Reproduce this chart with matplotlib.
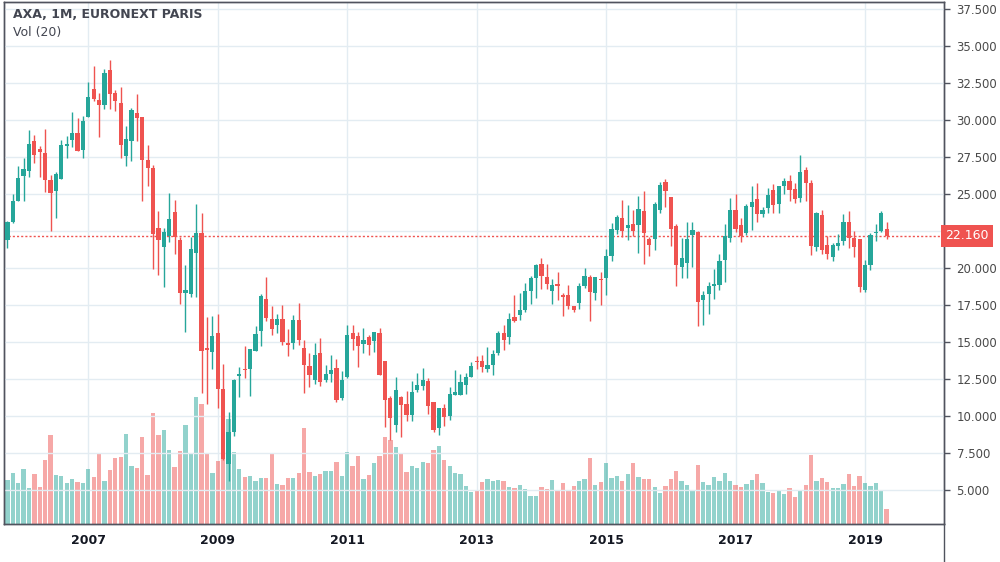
import numpy as np
import pandas as pd
import matplotlib
matplotlib.use('Agg')
import matplotlib.pyplot as plt
from matplotlib.lines import Line2D

# monthly candles, Oct 2005 .. May 2019
months = pd.date_range('2005-10-01', periods=164, freq='MS')

opens = [21.89, 23.13, 24.55, 26.24, 26.58, 28.60, 28.06, 27.79, 25.97, 25.18,
         25.99, 28.27, 28.63, 29.14, 27.95, 30.23, 32.12, 31.37, 30.99, 33.40,
         31.82, 31.13, 27.55, 28.56, 30.50, 30.23, 27.27, 26.76, 22.68, 21.44,
         22.16, 23.78, 21.89, 18.33, 18.27, 21.04, 22.36, 14.57, 14.35, 15.61,
         11.85, 6.78, 8.90, 12.68, 13.20, 13.15, 14.37, 15.72, 17.93, 16.58,
         16.13, 16.58, 14.95, 14.91, 16.51, 14.62, 13.40, 12.41, 14.28, 12.41,
         12.82, 13.27, 11.19, 12.61, 15.63, 15.43, 14.89, 15.36, 15.09, 15.63,
         13.74, 11.24, 9.37, 11.31, 10.83, 10.05, 11.78, 12.05, 12.39, 10.97,
         9.17, 10.52, 9.98, 11.44, 11.40, 12.12, 12.61, 13.67, 13.74, 13.15,
         13.42, 14.23, 15.63, 15.32, 16.71, 16.80, 17.18, 18.42, 19.30, 20.29,
         19.41, 18.47, 18.90, 18.20, 18.20, 17.45, 17.61, 18.81, 19.41, 18.29,
         19.23, 19.30, 20.79, 22.57, 23.40, 22.70, 23.00, 22.93, 23.87, 21.98,
         21.98, 23.94, 25.83, 24.82, 22.86, 20.09, 20.36, 22.23, 22.45, 17.84,
         18.24, 18.81, 18.87, 20.56, 22.05, 23.92, 22.91, 22.39, 24.12, 24.66,
         23.67, 24.05, 25.27, 24.32, 25.54, 25.88, 25.34, 24.75, 26.62, 25.74,
         21.42, 23.58, 21.55, 20.77, 21.51, 21.85, 23.11, 22.05, 21.96, 18.54,
         20.20, 22.39, 22.52, 22.64]

highs = [23.20, 25.00, 26.90, 27.41, 29.35, 29.01, 28.27, 29.41, 26.31, 26.46,
         28.65, 28.94, 30.56, 30.16, 30.25, 32.59, 33.67, 31.85, 33.47, 34.08,
         32.05, 32.21, 29.59, 30.83, 31.78, 30.23, 28.33, 26.96, 23.85, 22.73,
         25.07, 24.59, 22.09, 20.20, 22.09, 24.30, 23.69, 16.69, 16.76, 16.89,
         13.54, 10.29, 12.50, 13.33, 14.75, 14.55, 16.10, 18.27, 19.41, 17.45,
         16.91, 17.52, 15.88, 16.85, 17.66, 15.16, 14.28, 14.95, 15.29, 13.42,
         14.14, 13.87, 13.06, 16.17, 16.17, 15.70, 15.97, 15.50, 15.70, 15.97,
         13.74, 11.37, 12.66, 11.37, 11.71, 12.39, 12.93, 13.27, 12.59, 10.97,
         10.52, 10.83, 11.98, 13.13, 12.86, 12.93, 13.67, 14.04, 14.14, 14.68,
         14.48, 15.77, 16.17, 16.98, 18.20, 18.33, 19.01, 19.48, 20.29, 20.70,
         20.29, 19.28, 19.70, 18.33, 18.87, 17.45, 19.01, 20.02, 19.55, 19.41,
         19.75, 21.31, 23.06, 23.58, 24.62, 24.28, 23.94, 24.89, 25.23, 22.12,
         24.48, 25.83, 26.04, 24.82, 22.97, 22.05, 23.13, 23.11, 22.50, 18.45,
         19.08, 19.95, 20.97, 22.97, 24.73, 25.00, 23.38, 24.32, 25.54, 25.74,
         24.12, 25.41, 25.68, 25.54, 26.08, 26.28, 25.74, 27.64, 26.82, 25.95,
         23.81, 23.92, 22.16, 21.69, 22.30, 23.65, 23.85, 22.50, 21.96, 20.54,
         22.36, 22.97, 23.87, 23.11]

lows = [21.33, 23.02, 24.50, 24.55, 26.13, 27.07, 26.17, 25.11, 22.48, 23.36,
        25.99, 27.41, 28.15, 27.88, 27.41, 30.18, 31.26, 28.83, 30.72, 30.72,
        30.63, 27.41, 26.90, 27.25, 28.60, 24.53, 25.54, 19.91, 19.53, 18.74,
        21.78, 20.97, 17.59, 15.70, 18.06, 18.06, 11.58, 10.83, 13.20, 10.56,
        7.05, 5.59, 8.67, 11.26, 12.55, 11.33, 14.37, 14.71, 16.40, 15.45,
        15.59, 14.82, 14.03, 14.50, 14.77, 11.53, 11.94, 12.14, 12.00, 12.27,
        12.27, 10.92, 11.10, 12.57, 14.48, 13.29, 14.28, 14.14, 14.35, 12.79,
        9.28, 8.40, 8.90, 8.56, 9.64, 9.64, 11.60, 11.78, 10.11, 8.95,
        8.69, 9.30, 9.75, 11.44, 11.40, 11.46, 12.61, 13.20, 12.95, 12.95,
        12.75, 14.10, 14.44, 14.84, 16.37, 16.51, 17.05, 17.59, 18.00, 18.60,
        18.60, 17.59, 17.84, 16.73, 17.21, 17.00, 17.21, 18.63, 16.40, 17.82,
        17.52, 18.15, 20.50, 22.30, 22.12, 21.91, 22.18, 21.04, 20.25, 20.79,
        21.24, 23.74, 24.14, 21.51, 18.81, 19.35, 19.35, 20.09, 16.10, 16.17,
        16.91, 17.93, 18.54, 19.03, 21.78, 22.45, 21.78, 22.20, 22.59, 23.13,
        23.47, 23.72, 23.72, 23.72, 25.00, 24.53, 24.40, 24.46, 24.53, 20.90,
        21.15, 20.92, 20.63, 20.50, 21.22, 21.58, 21.37, 20.77, 18.40, 18.40,
        19.89, 21.85, 22.45, 21.98]

closes = [23.13, 24.55, 26.10, 26.71, 28.40, 27.66, 27.82, 25.92, 25.05, 26.37,
          28.33, 28.40, 29.14, 27.88, 29.95, 31.58, 31.40, 30.99, 33.20, 31.73,
          31.26, 28.29, 28.74, 30.70, 30.14, 27.27, 26.76, 22.27, 21.87, 22.43,
          23.29, 22.09, 18.33, 18.49, 21.26, 22.36, 14.41, 14.46, 15.41, 11.85,
          7.12, 8.90, 12.45, 12.86, 13.09, 14.55, 15.56, 18.13, 16.60, 15.86,
          16.58, 14.98, 14.77, 16.51, 15.11, 13.42, 12.75, 14.14, 12.27, 12.86,
          13.13, 11.06, 12.45, 15.50, 15.18, 14.71, 15.16, 14.82, 15.70, 12.79,
          11.10, 9.84, 11.78, 10.72, 10.05, 11.64, 12.12, 12.45, 10.65, 9.03,
          10.52, 9.93, 11.51, 11.64, 12.32, 12.66, 13.40, 13.65, 13.29, 13.47,
          14.21, 15.63, 15.11, 16.58, 16.44, 17.18, 18.47, 19.35, 20.23, 19.48,
          18.94, 18.87, 18.75, 18.02, 17.41, 17.14, 18.81, 19.48, 18.36, 19.41,
          19.20, 20.83, 22.66, 23.47, 22.52, 22.93, 22.52, 24.01, 22.39, 21.58,
          24.35, 25.63, 25.23, 22.66, 20.23, 20.65, 21.96, 22.57, 17.73, 18.18,
          18.81, 18.94, 20.47, 22.16, 23.92, 22.66, 22.18, 24.19, 24.46, 23.67,
          23.92, 24.93, 24.26, 25.54, 25.88, 25.27, 24.66, 26.49, 25.74, 21.51,
          23.74, 21.24, 20.92, 21.55, 21.69, 23.11, 22.05, 21.44, 18.74, 20.20,
          22.23, 22.45, 23.72, 22.16]

# volume, arbitrary units (millions of shares, approx.)
volume = [132, 153, 123, 165, 108, 150, 111, 192, 267, 147,
          144, 123, 135, 126, 123, 165, 141, 210, 129, 162,
          198, 201, 270, 174, 168, 261, 147, 333, 267, 282,
          222, 171, 219, 297, 213, 381, 360, 213, 153, 189,
          198, 315, 216, 165, 141, 144, 129, 138, 138, 213,
          120, 117, 138, 138, 153, 288, 156, 144, 150, 159,
          159, 186, 144, 216, 174, 204, 135, 147, 183, 204,
          261, 252, 231, 210, 156, 174, 168, 186, 183, 222,
          234, 192, 174, 153, 150, 114, 96, 102, 126, 135,
          129, 132, 129, 111, 108, 117, 105, 84, 84, 111,
          105, 132, 102, 123, 102, 114, 129, 135, 198, 117,
          126, 183, 138, 144, 129, 150, 183, 141, 135, 135,
          111, 93, 114, 135, 159, 129, 117, 99, 177, 126,
          117, 141, 129, 153, 129, 117, 111, 120, 132, 150,
          123, 96, 93, 99, 90, 108, 81, 102, 117, 207,
          129, 138, 126, 108, 108, 120, 150, 114, 144, 123,
          114, 123, 102, 45]

year_labels = ['2007', '2009', '2011', '2013', '2015', '2017', '2019']
price_ticks = [5.0, 7.5, 10.0, 12.5, 15.0, 17.5, 20.0, 22.5, 25.0, 27.5, 30.0, 32.5, 35.0, 37.5]
last_price = 22.16

UP = '#26a69a'
DOWN = '#ef5350'
GRID = '#e3ecf2'
AXIS = '#50535e'

o = np.array(opens); h = np.array(highs); l = np.array(lows); c = np.array(closes)
x = np.arange(len(months))
up = c >= o
cols = np.where(up, UP, DOWN)

fig = plt.figure(figsize=(10, 5.62), dpi=100)
rect = [0.0043, 0.0676, 0.9397, 0.9294]
axv = fig.add_axes(rect)
ax = axv.twinx()

# volume pane (bottom overlay)
axv.bar(x, volume, width=0.8, color=cols, alpha=0.5, linewidth=0)
axv.set_ylim(0, 1567)
axv.set_yticks([])
axv.set_xlim(-0.575, 173.64)
year_pos = [months.get_loc(pd.Timestamp(y + '-01-01')) for y in year_labels]
axv.set_xticks(year_pos)
axv.set_xticklabels(year_labels)
axv.tick_params(axis='x', length=0, pad=7, labelsize=9, labelcolor='#131722')
for t in axv.get_xticklabels():
    t.set_fontweight('bold')
axv.grid(axis='x', color=GRID, linewidth=1)
axv.set_axisbelow(True)

# candles
ax.vlines(x, l, h, colors=cols, linewidth=1, zorder=3)
body = np.maximum(np.abs(c - o), 0.04)
ax.bar(x, body, bottom=np.minimum(o, c), width=0.78, color=cols, linewidth=0, zorder=4)
ax.set_ylim(2.70, 37.99)
ax.set_yticks(price_ticks)
# the last-price tag hides the label nearest to it
tick_text = ['' if abs(p - last_price) < 1.0 else '%.3f' % p for p in price_ticks]
ax.set_yticklabels(tick_text)
ax.tick_params(axis='y', length=4, width=1, color=AXIS, pad=5, labelsize=8.5, labelcolor='#4a4a4a')
ax.grid(axis='y', color=GRID, linewidth=1)
ax.set_axisbelow(True)

ax.axhline(last_price, color=DOWN, linestyle=(0, (1.5, 1.5)), linewidth=1, zorder=2)
ax.text(1.0015, last_price, '%.3f' % last_price, transform=ax.get_yaxis_transform(),
        ha='left', va='center', color='white', fontsize=9, clip_on=False, zorder=10,
        bbox=dict(boxstyle='square,pad=0.35', fc=DOWN, ec='none'))

for a in (ax, axv):
    for s in a.spines.values():
        s.set_color(AXIS)
        s.set_linewidth(1)

fig.add_artist(Line2D([0.944, 0.944], [0, 0.0676], color=AXIS, linewidth=1))

fig.text(0.013, 0.975, 'AXA, 1M, EURONEXT PARIS', fontsize=9, fontweight='bold',
         color='#434651', va='center', ha='left')
fig.text(0.013, 0.943, 'Vol (20)', fontsize=9, color='#434651', va='center', ha='left')

fig.savefig('out.png', dpi=100)
